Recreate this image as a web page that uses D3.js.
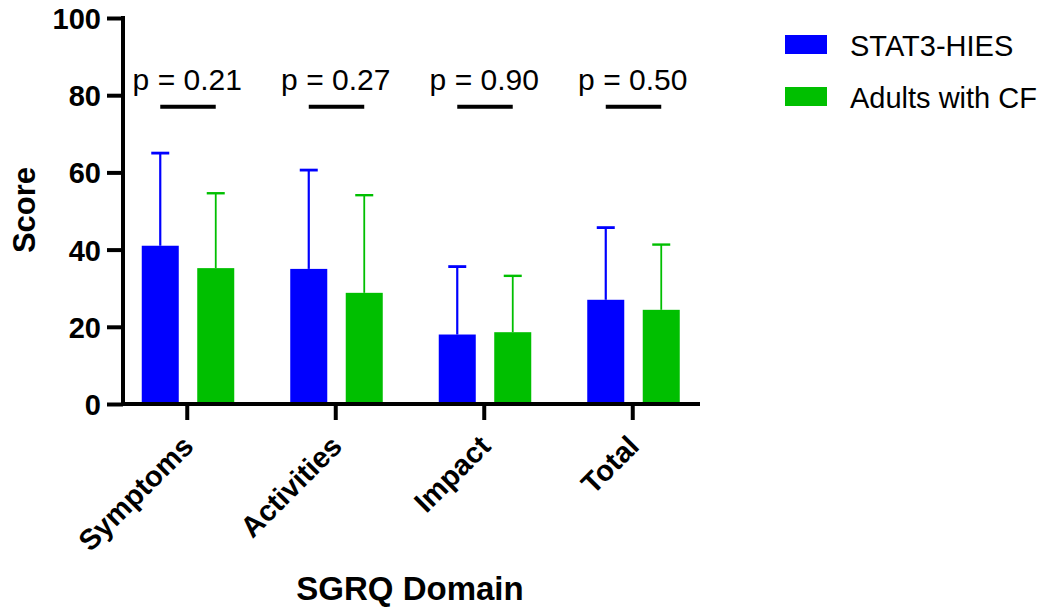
<!DOCTYPE html>
<html>
<head>
<meta charset="utf-8">
<script src="https://cdn.jsdelivr.net/npm/d3@7"></script>
<style>
  html, body { margin: 0; padding: 0; background: #fff; }
  svg { display: block; font-family: "Liberation Sans", Arial, sans-serif; }
</style>
</head>
<body>
<svg id="chart" width="1055" height="608"></svg>
<script>
// ---- data ----
const categories = ["Symptoms", "Activities", "Impact", "Total"];
const seriesNames = ["STAT3-HIES", "Adults with CF"];
const stat3Means = [41.0, 35.0, 18.0, 27.0];
const stat3Upper = [65.0, 60.6, 35.6, 45.7];
const cfMeans = [35.2, 28.8, 18.6, 24.4];
const cfUpper = [54.6, 54.1, 33.2, 41.3];
const pLabels = ["p = 0.21", "p = 0.27", "p = 0.90", "p = 0.50"];
const pBarLevel = 77;
const yTicks = [0, 20, 40, 60, 80, 100];
const colors = ["#0000FF", "#00BF00"];

const svg = d3.select("#chart");

const y = d3.scaleLinear().domain([0, 100]).range([404, 18]);
const x = d3.scaleBand().domain(categories).range([113, 707]);
const xs = d3.scaleBand().domain(seriesNames).range([-45.5, 47]).paddingInner(0.333);

const series = [
  { name: seriesNames[0], means: stat3Means, upper: stat3Upper, color: colors[0], sw: 2.2 },
  { name: seriesNames[1], means: cfMeans, upper: cfUpper, color: colors[1], sw: 1.8 }
];

// bars and error bars
series.forEach(s => {
  const g = svg.append("g");
  categories.forEach((c, i) => {
    const cx = x(c) + x.bandwidth() / 2;
    const bx = cx + xs(s.name);
    const bw = xs.bandwidth();
    g.append("rect")
      .attr("x", bx).attr("y", y(s.means[i]))
      .attr("width", bw).attr("height", y(0) - y(s.means[i]))
      .attr("fill", s.color);
    const mx = bx + bw / 2;
    g.append("line")
      .attr("x1", mx).attr("x2", mx)
      .attr("y1", y(s.means[i])).attr("y2", y(s.upper[i]))
      .attr("stroke", s.color).attr("stroke-width", s.sw);
    g.append("line")
      .attr("x1", mx - 9).attr("x2", mx + 9)
      .attr("y1", y(s.upper[i])).attr("y2", y(s.upper[i]))
      .attr("stroke", s.color).attr("stroke-width", s.sw + 0.6);
  });
});

// p-value annotations
categories.forEach((c, i) => {
  const cx = x(c) + x.bandwidth() / 2;
  const x1 = cx + xs(seriesNames[0]) + xs.bandwidth() / 2;
  const x2 = cx + xs(seriesNames[1]) + xs.bandwidth() / 2;
  svg.append("line")
    .attr("x1", x1).attr("x2", x2)
    .attr("y1", y(pBarLevel)).attr("y2", y(pBarLevel))
    .attr("stroke", "#000").attr("stroke-width", 4);
  svg.append("text")
    .attr("x", cx).attr("y", y(pBarLevel) - 17)
    .attr("text-anchor", "middle")
    .attr("font-size", 30)
    .attr("fill", "#000")
    .text(pLabels[i]);
});

// y axis
const yAxis = d3.axisLeft(y).tickValues(yTicks).tickSize(16).tickPadding(6).tickSizeOuter(0);
const yg = svg.append("g").attr("transform", "translate(123,0)").call(yAxis);
yg.select(".domain").remove();
yg.selectAll(".tick line").attr("stroke", "#000").attr("stroke-width", 4);
yg.selectAll(".tick text")
  .attr("font-size", 29).attr("font-weight", "bold")
  .attr("font-family", "Liberation Sans, Arial, sans-serif")
  .attr("fill", "#000").attr("dy", "0.36em");
svg.append("line")
  .attr("x1", 123).attr("x2", 123)
  .attr("y1", y(100) - 2).attr("y2", y(0) + 2)
  .attr("stroke", "#000").attr("stroke-width", 4);

// x axis
const xAxis = d3.axisBottom(x).tickSize(16).tickSizeOuter(0).tickFormat("");
const xg = svg.append("g").attr("transform", `translate(0,${y(0)})`).call(xAxis);
xg.select(".domain").remove();
xg.selectAll(".tick line").attr("stroke", "#000").attr("stroke-width", 4);
svg.append("line")
  .attr("x1", 121).attr("x2", 700)
  .attr("y1", y(0)).attr("y2", y(0))
  .attr("stroke", "#000").attr("stroke-width", 4);

// rotated category labels
categories.forEach(c => {
  const cx = x(c) + x.bandwidth() / 2;
  svg.append("text")
    .attr("transform", `translate(${cx + 8},${y(0) + 44}) rotate(-45)`)
    .attr("text-anchor", "end")
    .attr("font-size", 29).attr("font-weight", "bold")
    .attr("fill", "#000")
    .text(c);
});

// axis titles
svg.append("text")
  .attr("transform", "translate(35,210) rotate(-90)")
  .attr("text-anchor", "middle")
  .attr("font-size", 31).attr("font-weight", "bold")
  .text("Score");
svg.append("text")
  .attr("x", 410).attr("y", 600)
  .attr("text-anchor", "middle")
  .attr("font-size", 33).attr("font-weight", "bold")
  .text("SGRQ Domain");

// legend
const legend = svg.append("g").attr("transform", "translate(785,35)");
seriesNames.forEach((n, i) => {
  const row = legend.append("g").attr("transform", `translate(0,${i * 52})`);
  row.append("rect").attr("width", 42).attr("height", 19).attr("fill", colors[i]);
  row.append("text").attr("x", 65).attr("y", 21)
    .attr("font-size", 29).attr("fill", "#000").text(n);
});
</script>
</body>
</html>
